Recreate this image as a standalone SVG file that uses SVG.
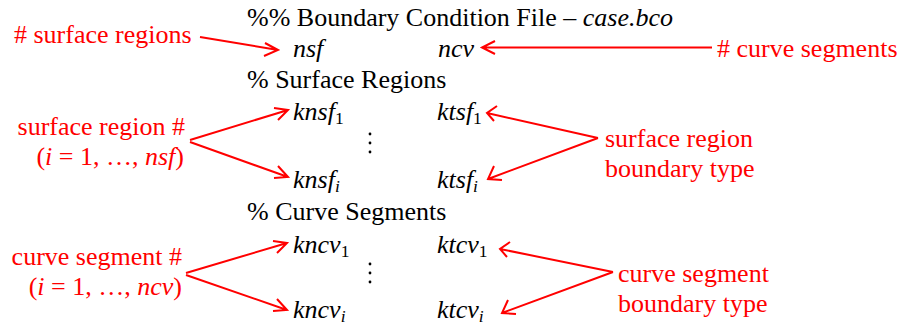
<svg xmlns="http://www.w3.org/2000/svg" width="905" height="327" viewBox="0 0 905 327">
<style>
text, tspan { font-family: "Liberation Serif", "Times New Roman", serif !important; }
.c{fill:none;stroke:#ff0000;stroke-width:2}
</style>
<rect width="905" height="327" fill="#fff"/>
<g id="file" style="font-family:'Liberation Serif',serif" font-family="Liberation Serif" font-size="26" fill="#000">
<text x="247" y="26">&#37;&#37; Boundary Condition File &#8211; <tspan font-style="italic">case.bco</tspan></text>
<text x="293" y="57" font-style="italic">nsf</text>
<text x="438" y="57" font-style="italic">ncv</text>
<text x="247" y="88">&#37; Surface Regions</text>
<text x="293" y="120"><tspan font-style="italic">knsf</tspan><tspan font-size="17.5" dy="4">1</tspan></text>
<text x="437" y="120"><tspan font-style="italic">ktsf</tspan><tspan font-size="17.5" dy="4">1</tspan></text>
<circle cx="370" cy="134" r="1.4"/><circle cx="370" cy="143" r="1.4"/><circle cx="370" cy="152" r="1.4"/>
<text x="293" y="188"><tspan font-style="italic">knsf</tspan><tspan font-size="17.5" font-style="italic" dy="4">i</tspan></text>
<text x="437" y="188"><tspan font-style="italic">ktsf</tspan><tspan font-size="17.5" font-style="italic" dy="4">i</tspan></text>
<text x="247" y="220">&#37; Curve Segments</text>
<text x="293" y="253"><tspan font-style="italic">kncv</tspan><tspan font-size="17.5" dy="4">1</tspan></text>
<text x="437" y="253"><tspan font-style="italic">ktcv</tspan><tspan font-size="17.5" dy="4">1</tspan></text>
<circle cx="370" cy="264" r="1.4"/><circle cx="370" cy="273" r="1.4"/><circle cx="370" cy="282" r="1.4"/>
<text x="293" y="318"><tspan font-style="italic">kncv</tspan><tspan font-size="17.5" font-style="italic" dy="4">i</tspan></text>
<text x="437" y="318"><tspan font-style="italic">ktcv</tspan><tspan font-size="17.5" font-style="italic" dy="4">i</tspan></text>
</g>
<g id="lbl-nsf" style="font-family:'Liberation Serif',serif" font-family="Liberation Serif" font-size="26" fill="#ff0000"><text x="14" y="43"># surface regions</text></g>
<g id="lbl-ncv" style="font-family:'Liberation Serif',serif" font-family="Liberation Serif" font-size="26" fill="#ff0000"><text x="717" y="57"># curve segments</text></g>
<g id="lbl-sr" style="font-family:'Liberation Serif',serif" font-family="Liberation Serif" font-size="26" fill="#ff0000" text-anchor="end">
<text x="185" y="135">surface region #</text>
<text x="184" y="165">(<tspan font-style="italic">i</tspan> = 1, &#8230;, <tspan font-style="italic">nsf</tspan>)</text>
</g>
<g id="lbl-srt" style="font-family:'Liberation Serif',serif" font-family="Liberation Serif" font-size="26" fill="#ff0000">
<text x="605" y="147">surface region</text>
<text x="605" y="177">boundary type</text>
</g>
<g id="lbl-cs" style="font-family:'Liberation Serif',serif" font-family="Liberation Serif" font-size="26" fill="#ff0000" text-anchor="end">
<text x="182" y="265">curve segment #</text>
<text x="182" y="295">(<tspan font-style="italic">i</tspan> = 1, &#8230;, <tspan font-style="italic">ncv</tspan>)</text>
</g>
<g id="lbl-cst" style="font-family:'Liberation Serif',serif" font-family="Liberation Serif" font-size="26" fill="#ff0000">
<text x="618" y="282">curve segment</text>
<text x="618" y="312">boundary type</text>
</g>
<g id="connectors">
<path class="c" d="M200,37 L278,50 M265,43 L278,50 L264,56"/>
<path class="c" d="M712,47.5 L482,47.5 M495,41 L482,47.5 L495,54"/>
<path class="c" d="M190,140 L288,110 M274,108 L288,110 L278,120"/>
<path class="c" d="M190,142 L288,177 M278,166 L288,177 L274,178"/>
<path class="c" d="M598,138 L487,113 M497,106 L487,113 L494,121"/>
<path class="c" d="M598,138 L488,179 M494,166 L488,179 L502,180"/>
<path class="c" d="M186,273 L287,243 M273,241 L287,243 L277,253"/>
<path class="c" d="M186,275 L287,310 M277,299 L287,310 L273,311"/>
<path class="c" d="M613,272 L500,249 M510,242 L500,249 L507,257"/>
<path class="c" d="M613,272 L502,313 M508,300 L502,313 L516,314"/>
</g>
</svg>
